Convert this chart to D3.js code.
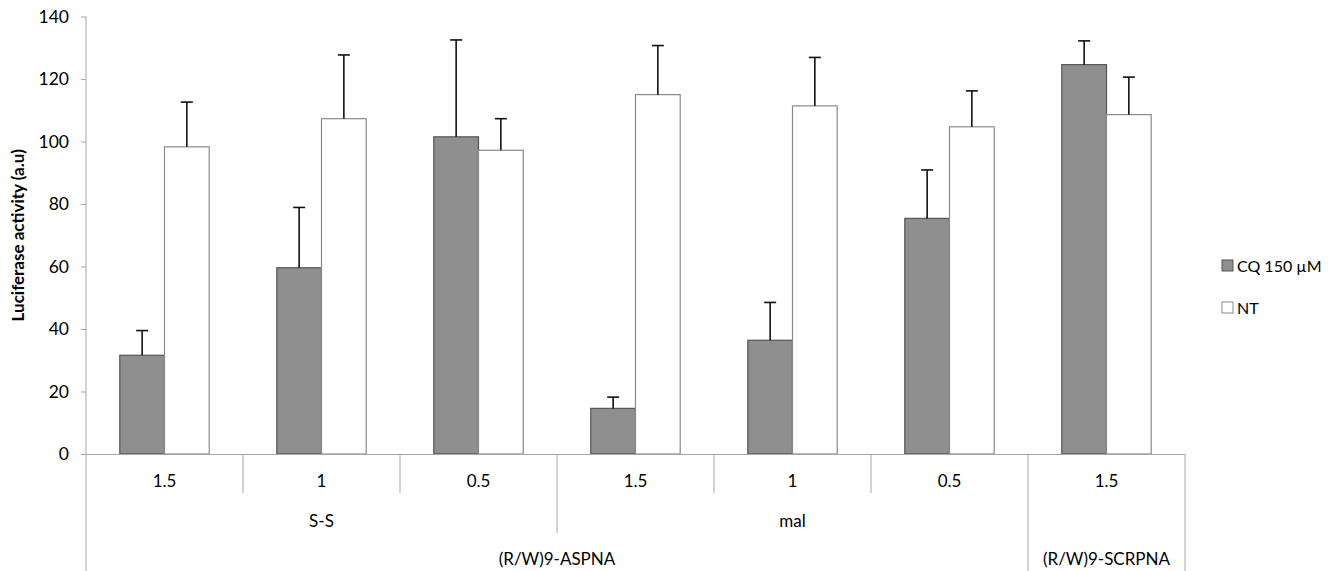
<!DOCTYPE html>
<html>
<head>
<meta charset="utf-8">
<script src="https://cdn.jsdelivr.net/npm/d3@7"></script>
<style>
  html, body { margin: 0; padding: 0; background: #fff; }
  svg { display: block; font-family: Lato, "Open Sans", "Liberation Sans", sans-serif; }
</style>
</head>
<body>
<svg id="chart" width="1341" height="571"></svg>
<script>
// ---- data ----
const categories = ["1.5", "1", "0.5", "1.5", "1", "0.5", "1.5"];
const subGroups  = ["S-S", "S-S", "S-S", "mal", "mal", "mal", ""];
const topGroups  = ["(R/W)9-ASPNA", "(R/W)9-ASPNA", "(R/W)9-ASPNA", "(R/W)9-ASPNA", "(R/W)9-ASPNA", "(R/W)9-ASPNA", "(R/W)9-SCRPNA"];
const seriesNames = ["CQ 150 µM", "NT"];
const cqValues  = [31.6, 59.6, 101.5, 14.6, 36.4, 75.4, 124.6];
const cqErrors  = [7.9, 19.3, 31.0, 3.6, 12.1, 15.5, 7.6];
const ntValues  = [98.3, 107.3, 97.2, 115.0, 111.4, 104.7, 108.6];
const ntErrors  = [14.3, 20.4, 10.1, 15.7, 15.5, 11.5, 12.0];
const yTicks    = [0, 20, 40, 60, 80, 100, 120, 140];
const yTitle    = "Luciferase activity (a.u)";

(function () {
// ---- layout ----
const svg = d3.select("#chart");
const mLeft = 86, mRight = 1185, mTop = 16.5, base = 454;
const mBottom = 571;
const axisColor = "#a6a6a6";
const fills = ["#8f8f8f", "#ffffff"];
const strokes = ["#555555", "#8a8a8a"];

const idx = categories.map((d, i) => i);
const x0 = d3.scaleBand().domain(idx).range([mLeft, mRight]).padding(0);
const x1 = d3.scaleBand().domain(seriesNames).range([0, x0.bandwidth()]).paddingInner(0).paddingOuter(0.756);
const y = d3.scaleLinear().domain([0, 140]).range([base, mTop]);

// y axis
const yAxis = d3.axisLeft(y).tickValues(yTicks).tickSize(5).tickPadding(12).tickFormat(d3.format("d"));
const gy = svg.append("g").attr("transform", `translate(${mLeft},0)`).call(yAxis);
gy.select(".domain").remove();
gy.selectAll(".tick line").attr("stroke", axisColor);
gy.selectAll(".tick text").attr("font-size", 17.5).attr("fill", "#000").attr("font-family", "Lato, 'Open Sans', sans-serif");
svg.append("line").attr("x1", mLeft).attr("x2", mLeft).attr("y1", mTop).attr("y2", mBottom)
  .attr("stroke", axisColor).attr("stroke-width", 1);

svg.append("text")
  .attr("transform", `translate(24,${(mTop + base) / 2}) rotate(-90)`)
  .attr("text-anchor", "middle")
  .attr("font-size", 17).attr("font-weight", "bold").attr("fill", "#000")
  .text(yTitle);

// bars
const series = [
  { name: seriesNames[0], values: cqValues, errors: cqErrors },
  { name: seriesNames[1], values: ntValues, errors: ntErrors }
];
series.forEach((s, si) => {
  const g = svg.append("g");
  g.selectAll("rect").data(idx).join("rect")
    .attr("x", i => x0(i) + x1(s.name))
    .attr("y", i => y(s.values[i]))
    .attr("width", x1.bandwidth())
    .attr("height", i => y(0) - y(s.values[i]))
    .attr("fill", fills[si]).attr("stroke", strokes[si]).attr("stroke-width", 1.2);
});
series.forEach((s) => {
  const eg = svg.append("g").attr("stroke", "#111").attr("stroke-width", 1.6);
  idx.forEach(i => {
    const cx = x0(i) + x1(s.name) + x1.bandwidth() / 2;
    const y1v = y(s.values[i]), y2v = y(s.values[i] + s.errors[i]);
    eg.append("line").attr("x1", cx).attr("x2", cx).attr("y1", y1v).attr("y2", y2v);
    eg.append("line").attr("x1", cx - 6).attr("x2", cx + 6).attr("y1", y2v).attr("y2", y2v);
  });
});

// x axis baseline
svg.append("line").attr("x1", mLeft).attr("x2", mRight).attr("y1", base + 0.5).attr("y2", base + 0.5)
  .attr("stroke", axisColor).attr("stroke-width", 1.2);

// hierarchical category labels
function spans(arr) {
  const out = [];
  arr.forEach((v, i) => {
    if (out.length && out[out.length - 1].label === v) out[out.length - 1].end = i;
    else out.push({ label: v, start: i, end: i });
  });
  return out;
}
const rows = [
  { labels: categories, labelY: 487, lineEnd: 493 },
  { labels: subGroups, labelY: 527, lineEnd: 533 },
  { labels: topGroups, labelY: 565, lineEnd: mBottom }
];
const lineG = svg.append("g").attr("stroke", axisColor).attr("stroke-width", 1);
const labelG = svg.append("g").attr("font-size", 17).attr("fill", "#000").attr("text-anchor", "middle");
rows.forEach((r, ri) => {
  const sp = (ri === 0) ? categories.map((c, i) => ({ label: c, start: i, end: i })) : spans(r.labels);
  sp.forEach(s => {
    const xa = x0(s.start), xb = x0(s.end) + x0.bandwidth();
    if (s.label !== "") {
      labelG.append("text").attr("x", (xa + xb) / 2).attr("y", r.labelY).text(s.label);
    }
  });
});
for (let i = 1; i <= categories.length; i++) {
  const xb = (i < categories.length) ? x0(i) : mRight;
  let end = rows[0].lineEnd;
  if (i === categories.length || topGroups[i] !== topGroups[i - 1]) end = mBottom;
  else if (subGroups[i] !== subGroups[i - 1]) end = rows[1].lineEnd;
  lineG.append("line").attr("x1", xb).attr("x2", xb).attr("y1", base).attr("y2", end);
}

// legend
const lg = svg.append("g").attr("transform", "translate(1222,260)");
seriesNames.forEach((n, i) => {
  const gi = lg.append("g").attr("transform", `translate(0,${i * 42})`);
  gi.append("rect").attr("x", 0).attr("y", 0).attr("width", 11).attr("height", 11)
    .attr("fill", fills[i]).attr("stroke", strokes[i]).attr("stroke-width", 1);
  gi.append("text").attr("x", 15).attr("y", 11.5).attr("font-size", 16).attr("fill", "#000").text(n);
});
})();
</script>
</body>
</html>
